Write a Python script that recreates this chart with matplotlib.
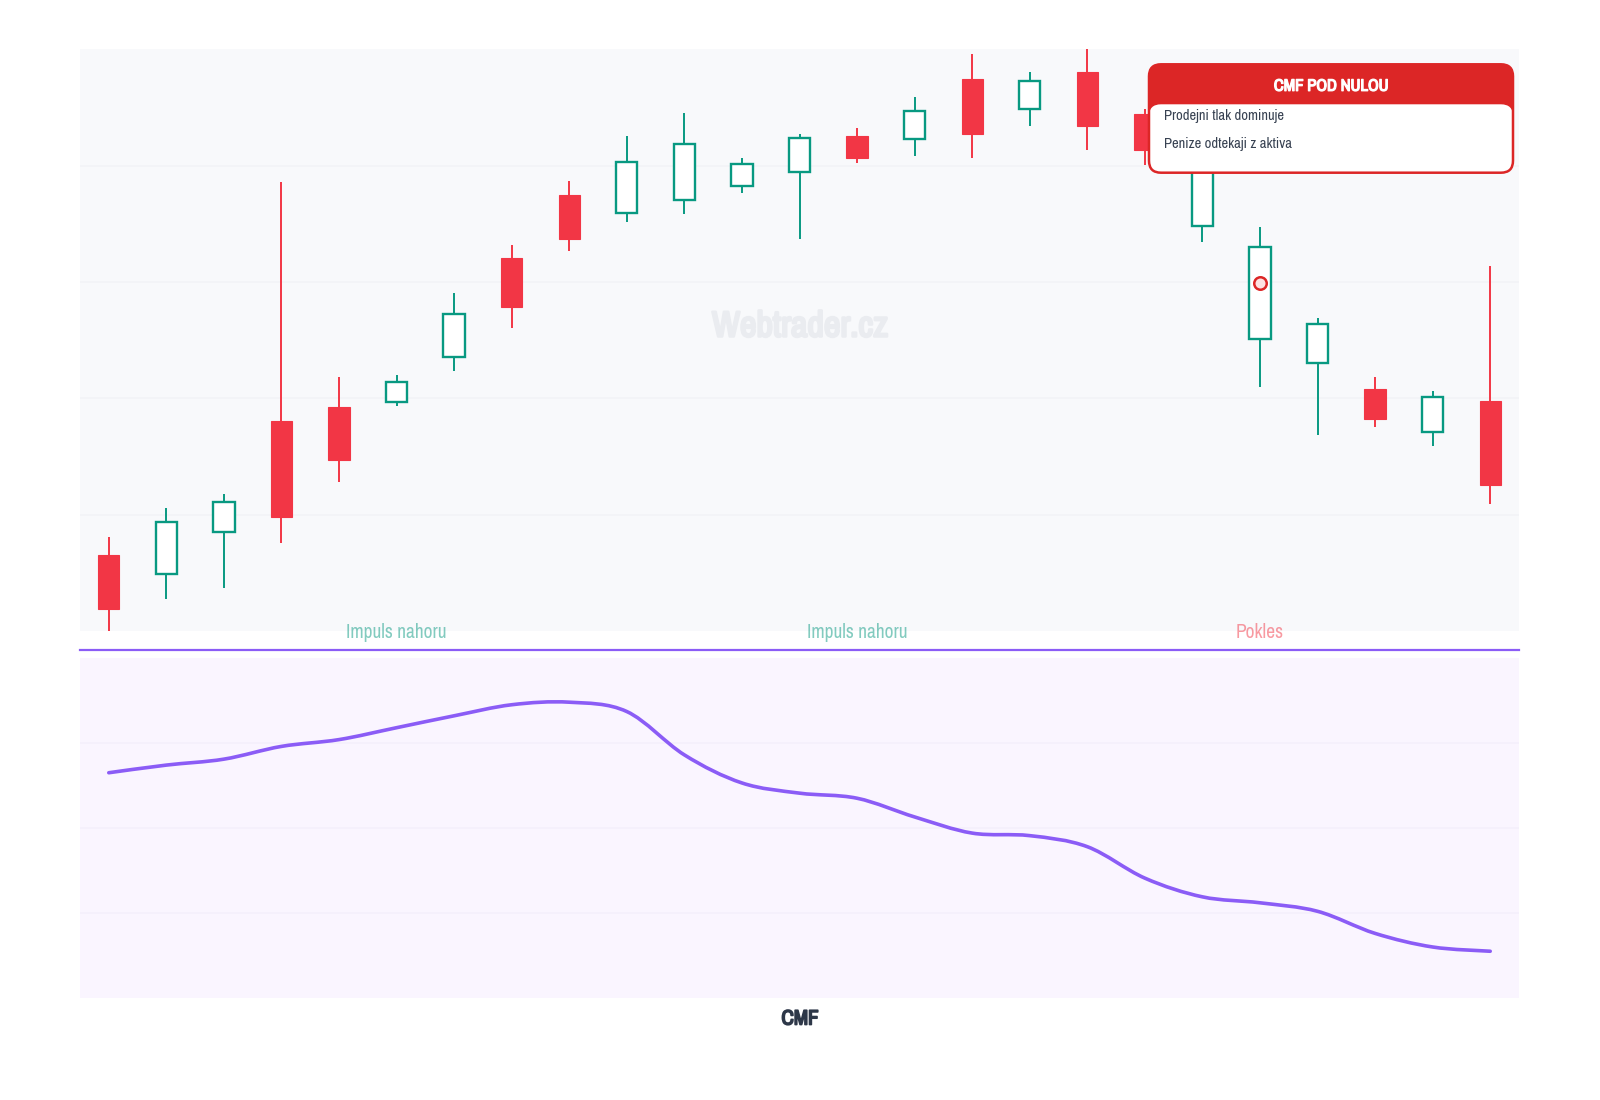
import matplotlib
matplotlib.use("Agg")
import matplotlib.pyplot as plt
from matplotlib import font_manager
from matplotlib import patheffects as pe
from matplotlib.path import Path
from matplotlib.patches import PathPatch, FancyBboxPatch
from matplotlib.lines import Line2D

# price candles (arbitrary units)
opens  = [103.25, 102.44, 104.25, 109.04, 109.64, 109.85, 111.79, 116.02, 118.73, 117.97, 118.53, 119.13, 119.74,
          121.26, 121.15, 123.71, 122.44, 124.02, 122.21, 117.42, 112.56, 111.53, 110.39, 108.55, 109.90]
closes = [100.95, 104.70, 105.56, 104.90, 107.37, 110.69, 113.63, 113.91, 116.84, 120.17, 120.92, 120.07, 121.18,
          120.34, 122.35, 121.36, 123.63, 121.72, 120.69, 120.33, 116.51, 113.20, 109.13, 110.07, 106.26]
highs  = [104.02, 105.27, 105.88, 119.32, 110.90, 111.01, 114.54, 116.58, 119.33, 121.26, 122.27, 120.34, 121.35,
          121.61, 122.94, 124.80, 124.04, 125.20, 122.44, 120.89, 117.38, 113.47, 110.91, 110.33, 115.69]
lows   = [99.90, 101.36, 101.86, 103.77, 106.42, 109.68, 111.19, 113.02, 116.33, 117.58, 117.94, 118.84, 116.86,
          120.13, 120.43, 120.32, 121.72, 120.69, 120.03, 116.73, 110.48, 108.43, 108.78, 107.97, 105.46]

cmf = [0.065, 0.074, 0.081, 0.096, 0.104, 0.118, 0.132, 0.145, 0.148, 0.137, 0.086, 0.053, 0.041,
       0.035, 0.013, -0.006, -0.009, -0.022, -0.059, -0.081, -0.088, -0.098, -0.124, -0.140, -0.145]

labels_idx = [5, 13, 20]
labels_txt = ["Impuls nahoru", "Impuls nahoru", "Pokles"]
labels_up = [True, True, False]

marker_idx = 20
marker_val = 114.95

tip_title = "CMF POD NULOU"
tip_lines = ["Prodejni tlak dominuje", "Penize odtekaji z aktiva"]

# look for a narrow face, the original uses a condensed font
names = {f.name for f in font_manager.fontManager.ttflist}
narrow = [n for n in names if "narrow" in n.lower() or "condensed" in n.lower()]
if "Liberation Sans Narrow" in names:
    cond = "Liberation Sans Narrow"
elif narrow:
    cond = sorted(narrow)[0]
else:
    cond = "DejaVu Sans"
plt.rcParams["font.family"] = [cond, "DejaVu Sans"]
plt.rcParams["font.stretch"] = "condensed"


def heavy(color, lw=1.0):
    # fake a bold weight by stroking the glyphs
    return [pe.withStroke(linewidth=lw, foreground=color)]


GREEN = "#089981"
RED = "#f23645"
PURPLE = "#8b5cf6"

fig = plt.figure(figsize=(16, 11), dpi=100)
fig.patch.set_facecolor("white")

ax = fig.add_axes([0.05, 0.42636, 0.899375, 0.52873])
ax2 = fig.add_axes([0.05, 0.09273, 0.899375, 0.30909])

for a, bg, gc in [(ax, "#f8f9fb", "#f3f4f7"), (ax2, "#faf5ff", "#f5f0fc")]:
    a.set_facecolor(bg)
    for s in a.spines.values():
        s.set_visible(False)
    a.tick_params(length=0, labelbottom=False, labelleft=False)
    a.grid(True, axis="y", color=gc, lw=1.2)
    a.set_axisbelow(True)
    a.set_xlim(-0.5, len(opens) - 0.5)

ax.set_ylim(100, 125)
ax.set_yticks([105, 110, 115, 120])
ax2.set_ylim(-0.2, 0.2)
ax2.set_yticks([-0.1, 0, 0.1])

ax.text(0.5003, 0.5244, "Webtrader.cz", transform=ax.transAxes, ha="center", va="center",
        fontsize=26, fontweight="bold", color="#eaecf0", zorder=1, path_effects=heavy("#eaecf0", 1.8))

x = list(range(len(opens)))
w = 0.37
for i in x:
    up = closes[i] >= opens[i]
    col = GREEN if up else RED
    lo_b, hi_b = min(opens[i], closes[i]), max(opens[i], closes[i])
    ax.vlines(i, lows[i], highs[i], color=col, lw=1.4, zorder=2)
    if up:
        ax.bar(i, hi_b - lo_b, bottom=lo_b, width=w, facecolor="white", edgecolor=col, lw=1.7, zorder=3)
    else:
        ax.bar(i, hi_b - lo_b, bottom=lo_b, width=w, facecolor=col, edgecolor=col, lw=0.8, zorder=3)

ax.plot(marker_idx, marker_val, "o", ms=9, mfc="#fde2e2", mec="#dc2626", mew=1.8, zorder=4)

for i, t, up in zip(labels_idx, labels_txt, labels_up):
    ax.text(i, 99.92, t, ha="center", va="center", fontsize=14, color=GREEN if up else RED,
            alpha=0.5, clip_on=False, zorder=5)

# smooth CMF line (Catmull-Rom through the read values)
pts = list(zip(x, cmf))
verts = [pts[0]]
codes = [Path.MOVETO]
for k in range(len(pts) - 1):
    p0 = pts[k - 1] if k > 0 else pts[k]
    p1 = pts[k]
    p2 = pts[k + 1]
    p3 = pts[k + 2] if k + 2 < len(pts) else pts[k + 1]
    c1 = (p1[0] + (p2[0] - p0[0]) / 6, p1[1] + (p2[1] - p0[1]) / 6)
    c2 = (p2[0] - (p3[0] - p1[0]) / 6, p2[1] - (p3[1] - p1[1]) / 6)
    verts += [c1, c2, p2]
    codes += [Path.CURVE4] * 3
ax2.add_patch(PathPatch(Path(verts, codes), facecolor="none", edgecolor=PURPLE, lw=2.6,
                        capstyle="round", joinstyle="round", zorder=3))

fig.add_artist(Line2D([0.05, 0.949375], [0.40909, 0.40909], color=PURPLE, lw=1.6,
                      transform=fig.transFigure))

fig.text(0.5, 0.0736, "CMF", ha="center", va="center", fontsize=15, fontweight="bold", color="#2d3748",
         path_effects=heavy("#2d3748", 1.2))

# tooltip box, in pixel units
tw, th = 364.0, 108.4
tax = fig.add_axes([1149 / 1600, 1 - 172.7 / 1100, tw / 1600, th / 1100])
tax.set_xlim(0, tw)
tax.set_ylim(0, th)
tax.axis("off")
tax.add_patch(FancyBboxPatch((0, 0), tw, th, boxstyle="round,pad=0,rounding_size=12",
                             facecolor="#dc2626", edgecolor="none", clip_on=False))
tax.add_patch(FancyBboxPatch((0, 0), tw, th - 40, boxstyle="round,pad=0,rounding_size=12",
                             facecolor="white", edgecolor="none", clip_on=False))
tax.add_patch(FancyBboxPatch((0, 0), tw, th, boxstyle="round,pad=0,rounding_size=12",
                             facecolor="none", edgecolor="#dc2626", lw=1.8, clip_on=False))
tax.text(tw / 2, th - 22, tip_title, ha="center", va="center", fontsize=12, fontweight="bold", color="white",
         path_effects=heavy("white", 0.9))
tax.text(15, th - 51.7, tip_lines[0], ha="left", va="center", fontsize=10.5, color="#374151")
tax.text(15, th - 79.7, tip_lines[1], ha="left", va="center", fontsize=10.5, color="#374151")

fig.savefig("out.png", dpi=100, facecolor="white")
